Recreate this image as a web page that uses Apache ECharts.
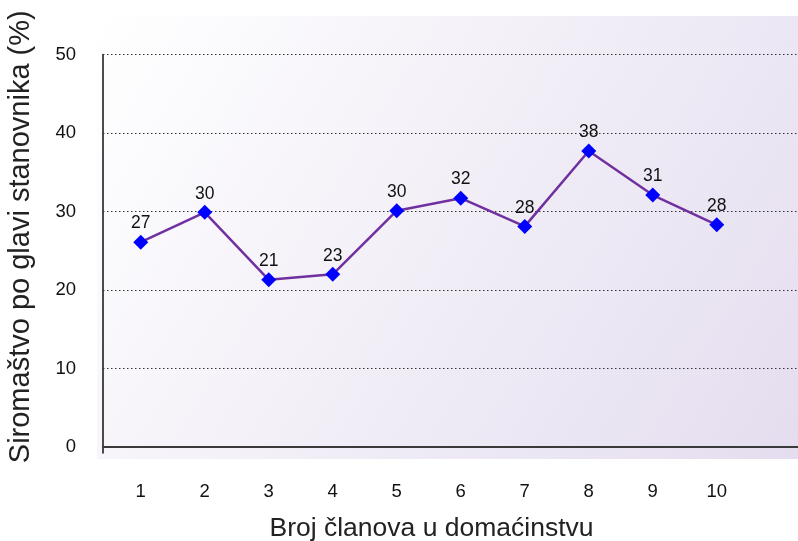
<!DOCTYPE html>
<html>
<head>
<meta charset="utf-8">
<script src="https://cdn.jsdelivr.net/npm/echarts@6/dist/echarts.min.js"></script>
<style>
  html, body { margin: 0; padding: 0; background: #fff; }
</style>
</head>
<body>
<div id="chart" style="width: 798px; height: 541px;"></div>
<script>
// household size categories
const members = [1, 2, 3, 4, 5, 6, 7, 8, 9, 10]
// plotted poverty values (%)
const poverty = [26.1, 29.9, 21.3, 22.0, 30.1, 31.7, 28.1, 37.7, 32.1, 28.3]
// labels printed above the points
const pointLabels = ['27', '30', '21', '23', '30', '32', '28', '38', '31', '28']
const yTicks = [0, 10, 20, 30, 40, 50]
const gridLines = [10, 20, 30, 40, 50]

const narrow = '"Liberation Sans Narrow", "Liberation Sans", Arial, sans-serif'
const regular = '"Liberation Sans", Arial, sans-serif'

const chart = echarts.init(document.getElementById('chart'))

const option = {
  animation: false,
  graphic: [{
    type: 'rect',
    z: -10,
    shape: { x: 97, y: 16, width: 701, height: 443 },
    style: {
      fill: new echarts.graphic.LinearGradient(0, 0, 1, 1, [
        { offset: 0, color: '#ffffff' },
        { offset: 1, color: '#e4ddef' }
      ])
    }
  }],
  grid: {
    left: 103,
    right: 0,
    top: 54.5,
    bottom: 88,
    containLabel: false,
    outerBoundsMode: 'none'
  },
  xAxis: {
    type: 'value',
    min: 0.41,
    max: 11.27,
    name: 'Broj članova u domaćinstvu',
    nameLocation: 'middle',
    nameGap: 62,
    nameTextStyle: { fontFamily: regular, fontSize: 26.5, color: '#222', padding: [0, 38, 0, 0] },
    axisLine: { lineStyle: { color: '#3a3a3a', width: 2 } },
    axisTick: { show: false },
    splitLine: { show: false },
    axisLabel: {
      customValues: members,
      margin: 29,
      fontFamily: narrow,
      fontSize: 18.5,
      color: '#111'
    }
  },
  yAxis: {
    type: 'value',
    min: -0.76,
    max: 50,
    name: 'Siromaštvo po glavi stanovnika (%)',
    nameLocation: 'middle',
    nameGap: 68,
    nameTextStyle: { fontFamily: regular, fontSize: 29, color: '#222', padding: [0, 0, 0, 34] },
    axisLine: { show: true, lineStyle: { color: '#111', width: 1.5 } },
    axisTick: { show: false },
    splitLine: { show: false },
    axisLabel: {
      customValues: yTicks,
      margin: 27,
      fontFamily: narrow,
      fontSize: 18.5,
      color: '#111'
    }
  },
  series: [{
    type: 'line',
    data: members.map((m, i) => [m, poverty[i]]),
    symbol: 'diamond',
    symbolSize: 15,
    itemStyle: { color: '#0000ff' },
    lineStyle: { color: '#7030a0', width: 2.5 },
    label: {
      show: true,
      position: 'top',
      distance: 2,
      fontFamily: narrow,
      fontSize: 17.5,
      color: '#111',
      formatter: (p) => pointLabels[p.dataIndex]
    },
    markLine: {
      silent: true,
      symbol: 'none',
      label: { show: false },
      lineStyle: { color: '#333', type: [1.5, 2.5], width: 1 },
      data: gridLines.map(v => ({ yAxis: v })),
      z: 1
    }
  }]
}

chart.setOption(option)
</script>
</body>
</html>
